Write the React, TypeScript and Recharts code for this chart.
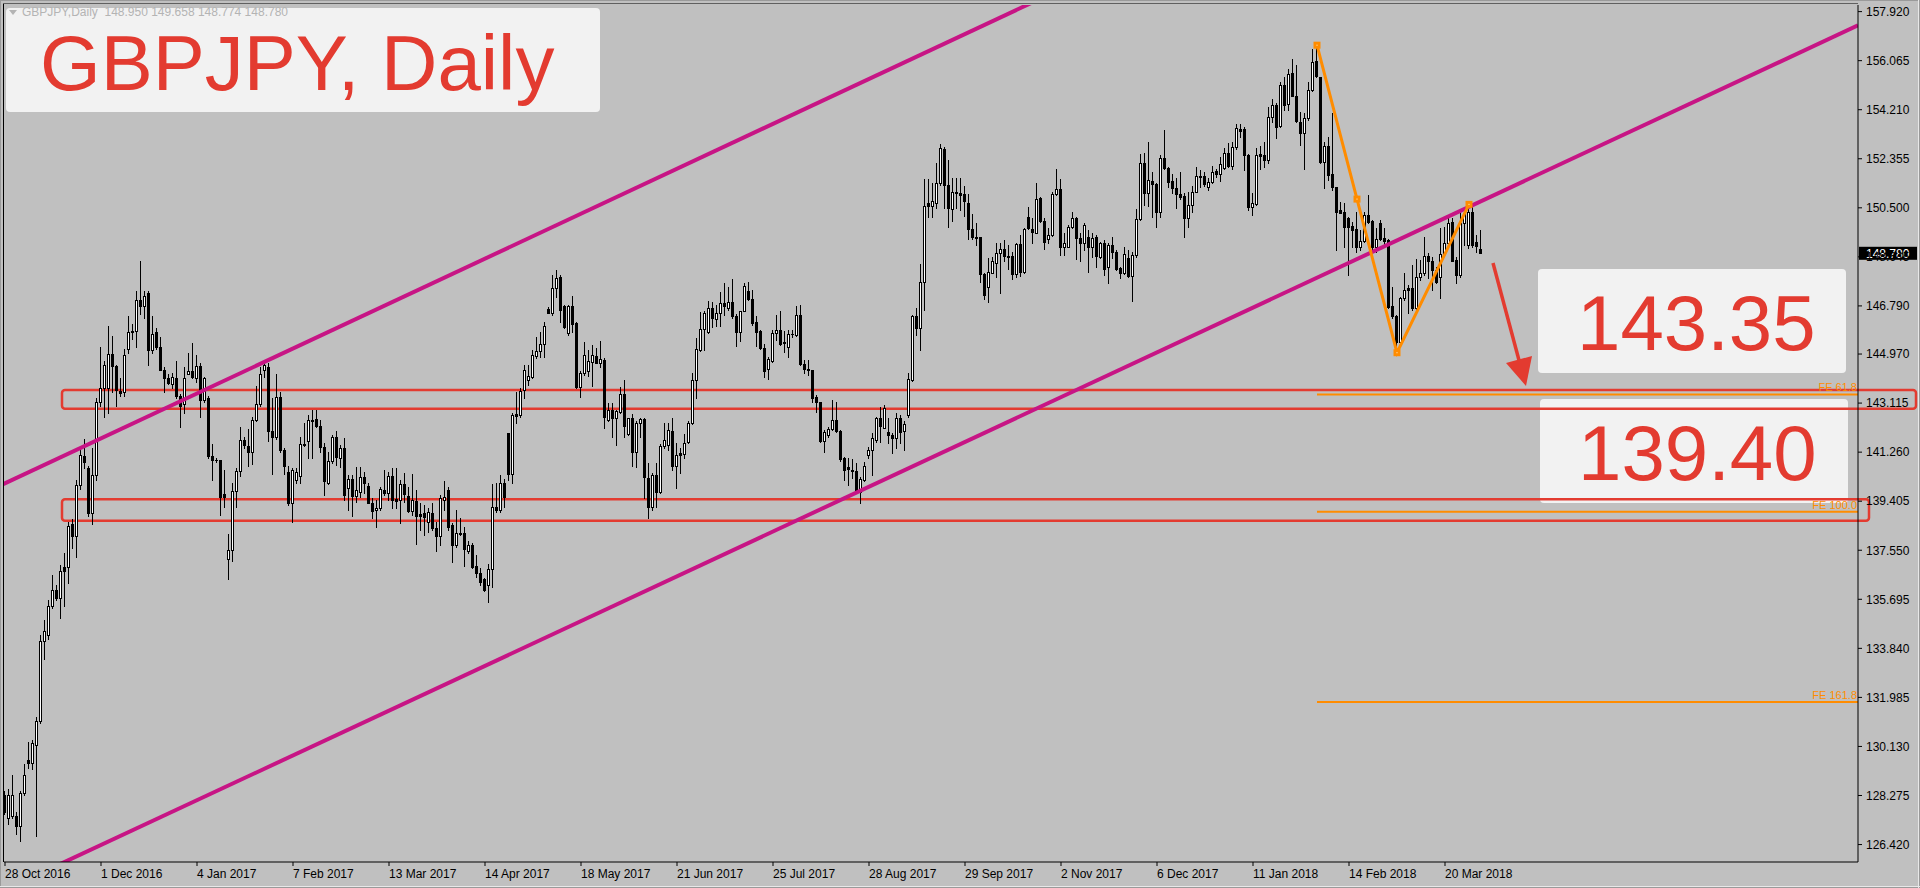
import React from "react";
import { ComposedChart, Bar, Line, XAxis, YAxis, ReferenceLine, ReferenceArea } from "recharts";

const W = 1920;
const H = 888;
const BG = "#c0c0c0";
const RED = "#e33b30";
const ORANGE = "#ff8c00";
const MAGENTA = "#c71585";
const FONT = "Liberation Sans";

// daily candles, 28 Oct 2016 .. end of Mar 2018
const OPEN = [
  128.30, 127.42, 127.49, 127.49, 127.12, 128.38, 129.63, 129.51, 130.19, 131.10,
  134.12, 134.34, 135.44, 136.03, 135.73, 136.91, 136.91, 138.53, 138.09, 140.00,
  141.11, 140.67, 138.97, 140.40, 143.17, 143.68, 143.68, 144.96, 144.52, 143.58,
  143.54, 145.15, 145.79, 145.85, 147.02, 146.77, 147.26, 145.11, 145.79, 145.23,
  144.37, 144.05, 143.83, 144.08, 143.39, 143.09, 144.23, 144.32, 144.08, 144.52,
  143.24, 143.31, 141.11, 140.96, 140.96, 139.66, 137.21, 137.57, 139.78, 140.55,
  141.72, 141.48, 141.26, 142.46, 143.09, 144.35, 144.49, 142.06, 141.84, 143.34,
  141.33, 140.52, 139.34, 140.22, 140.37, 141.52, 141.70, 142.45, 142.50, 142.25,
  141.44, 140.08, 140.94, 141.82, 141.03, 141.41, 139.89, 140.23, 139.60, 139.77,
  140.33, 139.98, 139.35, 139.07, 139.14, 139.83, 139.70, 140.36, 139.48, 139.45,
  140.06, 139.60, 139.05, 139.43, 138.92, 138.95, 138.63, 138.97, 138.38, 138.07,
  139.45, 139.83, 138.51, 137.75, 138.17, 138.19, 137.54, 137.75, 136.96, 136.70,
  136.45, 136.24, 136.83, 139.20, 139.07, 140.08, 141.97, 140.44, 142.70, 142.67,
  143.61, 143.97, 144.12, 144.90, 145.10, 145.35, 146.68, 146.54, 147.46, 147.90,
  146.77, 145.76, 146.77, 146.16, 143.74, 144.24, 144.31, 144.68, 144.90, 144.65,
  144.75, 142.48, 142.86, 142.54, 142.79, 143.45, 141.94, 142.54, 141.25, 142.35,
  142.50, 140.27, 139.20, 140.40, 139.74, 141.51, 141.53, 142.06, 140.75, 141.22,
  141.18, 141.66, 142.35, 143.99, 145.13, 145.92, 145.79, 146.73, 146.30, 146.51,
  146.89, 146.70, 146.93, 146.42, 145.82, 146.60, 147.36, 147.05, 146.20, 145.84,
  145.19, 144.41, 144.71, 145.76, 145.88, 145.44, 145.25, 145.72, 145.69, 146.45,
  144.58, 144.41, 144.37, 143.36, 143.17, 141.68, 141.91, 142.14, 142.48, 142.06,
  141.05, 140.68, 140.59, 140.55, 139.74, 140.21, 141.15, 141.34, 141.72, 142.54,
  142.19, 142.04, 141.91, 141.81, 142.54, 142.06, 142.67, 143.99, 146.39, 145.97,
  147.71, 150.67, 150.55, 150.70, 151.43, 152.71, 151.37, 150.45, 151.11, 151.05,
  151.03, 150.67, 149.69, 149.39, 149.39, 148.00, 147.50, 148.05, 148.43, 148.78,
  148.93, 148.68, 148.68, 148.00, 149.13, 148.09, 150.14, 149.69, 149.56, 150.86,
  150.02, 149.31, 149.48, 151.03, 151.20, 149.01, 149.03, 149.76, 150.10, 149.35,
  149.16, 149.39, 149.03, 149.39, 148.65, 149.16, 148.25, 149.10, 148.84, 148.21,
  148.02, 148.59, 147.92, 148.72, 150.07, 152.19, 151.05, 151.53, 151.40, 150.36,
  152.37, 151.99, 151.53, 151.24, 151.03, 150.95, 150.10, 150.61, 151.11, 151.68,
  151.71, 151.28, 151.49, 151.91, 151.78, 151.99, 152.59, 152.08, 152.79, 153.47,
  153.47, 152.50, 150.52, 150.65, 152.54, 152.50, 152.31, 153.93, 154.39, 153.60,
  155.15, 154.43, 155.59, 154.73, 153.76, 153.34, 153.89, 154.96, 156.07, 155.46,
  152.25, 152.84, 151.78, 151.28, 150.42, 150.36, 150.11, 149.82, 149.69, 149.03,
  149.26, 150.23, 150.02, 149.03, 149.94, 149.35, 149.29, 146.79, 146.39, 145.44,
  147.08, 147.46, 147.46, 146.70, 147.90, 148.03, 148.68, 148.50, 148.15, 147.87,
  148.76, 149.16, 149.98, 148.53, 147.96, 149.92, 149.10, 150.36, 149.19, 148.95,
];

const HIGH = [
  128.45, 128.52, 129.04, 127.64, 128.45, 129.48, 130.29, 130.36, 131.25, 134.34,
  134.93, 135.66, 136.62, 136.25, 136.99, 137.43, 138.61, 138.75, 140.22, 141.33,
  141.77, 140.74, 141.40, 143.31, 145.23, 144.71, 146.04, 145.67, 144.57, 144.05,
  145.15, 146.41, 146.11, 147.36, 148.47, 147.36, 147.36, 146.41, 145.96, 145.60,
  144.49, 144.20, 144.27, 144.71, 143.46, 144.49, 145.01, 145.38, 144.93, 144.64,
  144.12, 143.39, 141.55, 141.03, 140.96, 140.59, 138.16, 140.08, 140.67, 142.21,
  141.84, 142.14, 142.58, 143.76, 144.49, 144.64, 144.64, 143.31, 144.20, 143.54,
  141.40, 140.74, 140.67, 140.67, 141.84, 142.36, 142.67, 142.86, 142.86, 142.48,
  141.60, 141.28, 141.91, 142.07, 141.53, 141.79, 140.40, 140.40, 140.71, 140.71,
  140.52, 140.08, 139.52, 139.45, 139.96, 140.59, 140.52, 140.65, 140.65, 140.21,
  140.49, 139.96, 140.44, 139.83, 139.33, 139.26, 139.14, 139.33, 138.63, 139.64,
  140.15, 139.96, 138.57, 139.07, 138.76, 138.42, 137.91, 137.81, 137.37, 136.87,
  136.49, 137.03, 140.06, 140.08, 140.40, 140.23, 141.97, 142.73, 143.55, 143.68,
  144.56, 144.56, 145.13, 145.63, 145.82, 146.20, 146.74, 147.96, 148.15, 147.96,
  146.83, 146.83, 147.17, 146.20, 144.31, 145.44, 145.13, 145.31, 145.19, 145.48,
  144.81, 143.13, 143.11, 142.86, 143.74, 143.99, 142.57, 142.69, 142.42, 142.57,
  142.54, 140.84, 140.46, 140.84, 141.56, 142.35, 142.35, 142.57, 141.60, 141.41,
  141.94, 142.42, 144.24, 145.57, 146.55, 146.58, 146.98, 146.95, 146.83, 147.31,
  147.65, 147.52, 147.81, 146.47, 146.60, 147.65, 147.71, 147.39, 146.39, 145.88,
  145.34, 144.87, 145.88, 146.45, 146.58, 145.84, 145.88, 145.88, 146.80, 146.83,
  144.75, 144.75, 144.37, 143.42, 143.17, 142.10, 142.21, 143.23, 143.15, 142.10,
  141.09, 141.03, 141.00, 140.84, 140.33, 140.90, 141.47, 141.97, 142.60, 142.98,
  143.05, 142.54, 141.97, 142.73, 142.67, 142.42, 144.24, 146.45, 146.73, 148.38,
  151.58, 151.58, 151.45, 152.21, 152.92, 152.79, 152.31, 151.62, 151.62, 151.62,
  151.33, 151.03, 150.27, 149.92, 149.41, 148.05, 148.59, 148.63, 149.16, 149.18,
  149.29, 149.10, 148.84, 149.18, 149.47, 149.73, 150.52, 150.10, 151.45, 150.92,
  150.10, 149.73, 151.08, 151.96, 151.58, 149.54, 149.85, 150.36, 150.17, 149.54,
  149.92, 149.66, 149.54, 149.47, 149.22, 149.29, 149.16, 149.41, 148.91, 148.28,
  149.01, 148.91, 148.84, 150.46, 152.54, 152.56, 153.00, 151.87, 151.45, 152.50,
  153.45, 152.06, 151.78, 151.62, 151.87, 151.05, 151.08, 151.33, 152.03, 151.93,
  151.87, 151.62, 152.08, 151.96, 152.44, 152.75, 152.94, 153.00, 153.67, 153.67,
  153.57, 152.54, 151.05, 152.75, 152.82, 153.00, 154.30, 154.61, 154.48, 155.27,
  155.46, 155.74, 156.12, 155.90, 154.14, 154.08, 155.27, 156.50, 156.66, 155.46,
  153.00, 153.19, 154.08, 151.30, 150.72, 150.67, 150.17, 149.98, 150.36, 149.66,
  150.36, 150.99, 150.04, 149.73, 150.04, 149.73, 149.31, 147.50, 146.45, 147.14,
  148.02, 147.58, 148.34, 148.55, 148.53, 149.41, 148.81, 148.65, 148.28, 149.73,
  149.79, 150.17, 150.10, 148.65, 150.32, 150.36, 150.63, 150.55, 149.48, 149.658,
];

const LOW = [
  127.57, 127.20, 127.42, 126.83, 126.54, 128.30, 129.33, 129.26, 126.76, 131.03,
  133.45, 134.19, 135.37, 135.66, 135.00, 135.44, 136.32, 137.65, 137.28, 139.86,
  140.67, 138.83, 138.53, 140.22, 143.02, 142.58, 142.73, 143.54, 143.02, 143.39,
  143.39, 145.01, 145.52, 145.23, 146.48, 146.33, 144.57, 145.01, 145.15, 144.35,
  143.54, 143.83, 143.68, 143.31, 142.21, 142.73, 144.20, 144.05, 143.90, 142.58,
  143.17, 141.03, 140.22, 140.89, 138.90, 139.19, 136.47, 137.13, 139.19, 140.37,
  141.40, 140.74, 140.81, 142.43, 143.02, 144.12, 141.70, 140.45, 141.77, 141.26,
  140.45, 139.27, 138.61, 140.08, 140.08, 141.48, 141.03, 141.03, 142.20, 141.28,
  139.64, 140.06, 140.84, 140.78, 140.71, 139.45, 139.07, 138.85, 139.39, 139.58,
  139.73, 139.33, 138.76, 138.44, 139.07, 139.64, 139.45, 139.14, 139.14, 138.57,
  139.39, 139.01, 138.89, 137.79, 138.32, 138.13, 138.25, 138.32, 137.54, 137.75,
  139.07, 138.32, 137.12, 137.69, 138.13, 136.96, 137.43, 136.87, 136.55, 136.24,
  135.99, 135.61, 136.17, 139.01, 139.01, 139.20, 140.21, 140.08, 142.35, 142.60,
  143.30, 143.80, 144.05, 144.81, 144.87, 144.85, 146.51, 146.45, 147.14, 146.20,
  145.94, 145.69, 145.82, 143.68, 143.36, 144.18, 144.14, 143.76, 144.62, 144.49,
  142.16, 142.42, 141.85, 141.53, 142.73, 141.85, 141.91, 140.75, 140.71, 141.85,
  139.52, 138.76, 139.07, 139.20, 139.70, 141.41, 141.34, 140.59, 139.89, 140.46,
  141.03, 141.60, 142.31, 143.30, 145.09, 145.13, 145.76, 146.01, 146.04, 146.04,
  146.45, 146.64, 146.35, 145.29, 145.47, 146.58, 147.02, 146.07, 145.29, 145.17,
  144.12, 144.03, 144.66, 145.50, 145.31, 145.06, 144.84, 145.63, 145.67, 144.56,
  144.24, 144.18, 143.17, 142.79, 141.63, 141.28, 141.85, 142.10, 142.04, 140.93,
  140.21, 140.02, 140.27, 139.70, 139.33, 140.15, 141.03, 140.40, 141.66, 141.63,
  142.16, 141.60, 141.22, 141.41, 141.60, 141.34, 142.60, 143.95, 145.69, 145.13,
  146.64, 150.17, 150.17, 150.48, 151.37, 150.48, 149.76, 150.02, 150.48, 150.42,
  150.19, 149.31, 149.31, 149.10, 147.71, 147.04, 146.95, 148.02, 147.87, 147.29,
  148.47, 148.19, 147.80, 147.90, 147.92, 148.02, 149.69, 149.16, 149.54, 149.98,
  148.93, 149.18, 149.44, 150.99, 148.72, 148.72, 149.01, 149.73, 148.55, 148.47,
  148.91, 148.09, 148.65, 148.28, 148.59, 147.96, 147.65, 148.59, 148.15, 147.84,
  148.00, 147.90, 146.99, 148.65, 150.04, 150.61, 150.57, 150.17, 149.76, 150.14,
  151.96, 151.30, 151.05, 150.48, 150.82, 149.41, 149.79, 150.36, 151.08, 151.30,
  151.33, 151.18, 151.45, 151.68, 151.53, 151.96, 152.03, 151.96, 152.71, 153.19,
  151.93, 150.42, 150.23, 150.61, 151.96, 152.06, 152.19, 153.76, 153.13, 153.57,
  154.20, 154.20, 154.71, 153.76, 152.88, 151.96, 153.82, 154.90, 155.46, 152.19,
  151.24, 151.55, 151.18, 148.91, 150.29, 149.03, 147.96, 149.03, 148.84, 148.91,
  149.22, 149.92, 148.91, 148.84, 149.27, 149.03, 146.70, 146.32, 145.02, 145.38,
  147.02, 146.51, 146.64, 146.66, 147.77, 147.96, 147.84, 147.39, 147.65, 147.08,
  148.66, 149.03, 148.47, 147.65, 147.90, 149.10, 148.97, 149.03, 148.84, 148.774,
];

const CLOSE = [
  127.64, 128.30, 128.30, 127.12, 128.38, 129.04, 129.51, 130.25, 131.10, 134.12,
  134.48, 135.44, 136.03, 135.73, 136.77, 136.77, 138.46, 138.09, 140.00, 141.14,
  140.89, 138.97, 140.40, 143.17, 143.68, 144.57, 144.96, 144.52, 143.61, 143.49,
  144.93, 145.82, 145.85, 147.02, 146.77, 147.17, 145.11, 145.74, 145.23, 144.37,
  144.05, 143.87, 144.12, 143.39, 143.02, 144.05, 144.32, 144.12, 144.52, 143.24,
  144.05, 141.11, 140.96, 140.95, 139.56, 139.56, 137.57, 139.78, 140.55, 141.72,
  141.52, 141.26, 142.46, 143.09, 144.23, 144.57, 142.06, 141.84, 143.34, 141.33,
  140.74, 139.34, 140.59, 140.52, 141.55, 141.58, 142.48, 142.49, 142.23, 141.44,
  140.18, 140.94, 141.82, 141.07, 141.41, 139.64, 140.23, 139.60, 139.81, 140.33,
  140.08, 139.35, 139.05, 139.14, 139.86, 139.73, 140.36, 139.45, 139.43, 140.06,
  139.68, 139.05, 139.45, 138.85, 138.85, 138.82, 139.01, 138.38, 138.07, 139.52,
  139.55, 138.44, 137.75, 138.22, 138.19, 137.59, 137.75, 136.93, 136.70, 136.36,
  136.05, 136.83, 139.20, 139.07, 140.08, 139.58, 140.44, 142.67, 142.64, 143.59,
  144.37, 144.14, 144.94, 145.10, 145.35, 146.03, 146.54, 147.46, 147.84, 146.64,
  145.98, 146.77, 146.11, 143.74, 144.24, 144.94, 144.72, 144.94, 144.65, 144.77,
  142.58, 142.86, 142.54, 142.83, 143.45, 142.23, 142.54, 141.28, 142.35, 142.50,
  140.33, 139.20, 140.40, 139.74, 141.51, 141.72, 142.10, 140.75, 141.15, 141.15,
  141.60, 142.35, 143.99, 145.15, 145.92, 146.51, 146.70, 146.32, 146.51, 146.89,
  146.80, 146.93, 146.39, 145.82, 146.58, 147.56, 147.05, 146.13, 145.79, 145.19,
  144.33, 144.78, 145.76, 145.88, 145.34, 145.38, 145.72, 145.74, 146.45, 144.58,
  144.39, 144.36, 143.32, 143.15, 141.68, 142.01, 142.14, 142.48, 142.06, 141.00,
  140.59, 140.62, 140.53, 139.74, 140.24, 140.75, 141.34, 141.81, 142.54, 142.23,
  142.92, 141.89, 141.81, 142.54, 142.04, 142.31, 144.03, 146.39, 145.97, 147.71,
  150.55, 150.55, 150.74, 151.43, 152.75, 151.37, 150.48, 151.08, 151.05, 150.99,
  150.77, 149.69, 149.39, 149.37, 148.00, 147.20, 148.09, 148.47, 148.78, 148.93,
  148.68, 148.63, 148.00, 149.13, 148.09, 149.69, 149.73, 149.60, 150.82, 150.02,
  149.22, 149.48, 151.03, 151.20, 149.01, 149.16, 149.76, 150.10, 149.35, 149.16,
  149.85, 149.03, 149.35, 148.68, 149.16, 148.18, 149.10, 148.84, 148.18, 148.02,
  148.76, 147.92, 148.72, 150.07, 152.19, 151.05, 151.55, 151.40, 150.36, 152.37,
  151.99, 151.49, 151.24, 151.03, 150.92, 150.10, 150.61, 151.11, 151.71, 151.71,
  151.40, 151.49, 151.87, 151.78, 152.16, 152.59, 152.08, 152.79, 153.51, 153.42,
  152.50, 150.52, 150.67, 152.50, 152.46, 152.31, 153.93, 154.39, 153.57, 155.15,
  154.39, 155.56, 154.73, 153.80, 153.34, 153.89, 154.96, 156.03, 155.49, 152.25,
  152.84, 151.74, 151.28, 150.36, 150.32, 149.79, 149.79, 149.66, 149.01, 149.26,
  150.23, 149.98, 149.03, 149.31, 149.31, 149.26, 146.76, 146.39, 145.44, 147.08,
  147.39, 147.39, 146.70, 147.90, 148.03, 148.66, 148.47, 148.15, 147.71, 148.76,
  149.16, 149.94, 148.50, 147.96, 149.94, 150.29, 150.36, 149.10, 149.06, 148.78,
];

// time axis: one label every 24 bars
const X_TICKS = [0, 24, 48, 72, 96, 120, 144, 168, 192, 216, 240, 264, 288, 312, 336, 360];
const DATE_TICKS = [
  "28 Oct 2016", "1 Dec 2016", "4 Jan 2017", "7 Feb 2017", "13 Mar 2017", "14 Apr 2017",
  "18 May 2017", "21 Jun 2017", "25 Jul 2017", "28 Aug 2017", "29 Sep 2017", "2 Nov 2017",
  "6 Dec 2017", "11 Jan 2018", "14 Feb 2018", "20 Mar 2018",
];
const PRICE_TICKS = [
  157.92, 156.065, 154.21, 152.355, 150.5, 148.645, 146.79, 144.97, 143.115,
  141.26, 139.405, 137.55, 135.695, 133.84, 131.985, 130.13, 128.275, 126.42,
];

// bar-index / price ranges of the visible window
const X_MIN = -0.25;
const X_MAX = 463.25;
const Y_MIN = 125.76;
const Y_MAX = 158.17;

// channel (bar index, price)
const CHAN_X = [-1, 463.25];
const CHAN_UPPER = [140.01, 172.88];
const CHAN_LOWER = [124.64, 157.4];

// support zones
const ZONE_TOP = [143.61, 139.48];
const ZONE_BOTTOM = [142.9, 138.67];
const ZONE_FROM = [14.25, 14.25];
const ZONE_TO = [477.75, 466];

// fibo expansion anchors A, (mid), B, C
const ZZ_INDEX = [328, 338, 348, 366];
const ZZ_PRICE = [156.65, 150.83, 145.02, 150.63];
const FE_LEVELS = [143.44, 139.01, 131.81];
const FE_LABELS = ["FE 61.8", "FE 100.0", "FE 161.8"];

const TARGETS = ["143.35", "139.40"];

const LAST = CLOSE.length - 1;

const rows = CLOSE.map((c, i) => {
  const k = ZZ_INDEX.indexOf(i);
  return { i, o: OPEN[i], h: HIGH[i], l: LOW[i], c, zz: k >= 0 ? ZZ_PRICE[k] : null };
});

function Candle(props: any) {
  const { x, y, width, height, payload } = props;
  if (x == null || y == null || !payload) return <g />;
  const top = Math.min(y, y + height);
  const bot = Math.max(y, y + height);
  const span = payload.h - payload.l || 1;
  const py = (p: number) => bot - ((p - payload.l) / span) * (bot - top);
  const cx = Math.floor(x + width / 2) + 0.5;
  const yo = Math.round(py(payload.o));
  const yc = Math.round(py(payload.c));
  const bull = payload.c >= payload.o;
  const bt = Math.min(yo, yc);
  const bh = Math.abs(yo - yc);
  return (
    <g shapeRendering="crispEdges">
      <line x1={cx} x2={cx} y1={Math.round(top)} y2={Math.round(bot) + 1} stroke="#000" strokeWidth={1} />
      {bh < 1 ? (
        <line x1={cx - 1.5} x2={cx + 1.5} y1={bt + 0.5} y2={bt + 0.5} stroke="#000" strokeWidth={1} />
      ) : (
        <rect x={cx - 1} y={bt + 0.5} width={2} height={bh} fill={bull ? "#fff" : "#000"} stroke="#000" strokeWidth={1} />
      )}
    </g>
  );
}

const zzDot = (p: any) => {
  if (!p.payload || p.payload.zz == null || p.cy == null) return <g key={p.index} />;
  return (
    <g key={p.index}>
      <rect x={p.cx - 3.5} y={p.cy - 3.5} width={7} height={7} fill={ORANGE} />
      <rect x={p.cx - 0.5} y={p.cy - 0.5} width={1} height={1} fill="#fff3d0" />
    </g>
  );
};

const FeLabel = ({ viewBox, text }: any) =>
  viewBox ? (
    <text x={viewBox.x + viewBox.width - 1} y={viewBox.y - 3} textAnchor="end" fill={ORANGE} fontSize={11} fontFamily={FONT}>
      {text}
    </text>
  ) : null;

const PriceTag = ({ viewBox, text }: any) => {
  if (!viewBox) return null;
  const x = viewBox.x + viewBox.width + 1;
  const y = viewBox.y;
  return (
    <g>
      <rect x={x} y={y - 6.5} width={58} height={13} fill="#000" />
      <text x={x + 7} y={y + 4.5} fill="#fff" fontSize={12} fontFamily={FONT}>
        {text}
      </text>
    </g>
  );
};

const XTick = ({ x, y, payload }: any) => (
  <text x={x} y={y + 10} textAnchor="start" fill="#000" fontSize={12} fontFamily={FONT}>
    {DATE_TICKS[X_TICKS.indexOf(payload.value)]}
  </text>
);

export default function App() {
  const header = `GBPJPY,Daily  ${OPEN[LAST].toFixed(3)} ${HIGH[LAST].toFixed(3)} ${LOW[LAST].toFixed(3)} ${CLOSE[LAST].toFixed(3)}`;
  return (
    <div style={{ position: "fixed", left: 0, top: 0, width: W, height: H, background: BG, overflow: "hidden", fontFamily: FONT }}>
      <svg width={W} height={H} style={{ position: "absolute", left: 0, top: 0 }}>
        <rect x={0.5} y={0.5} width={W - 1} height={H - 1} fill="none" stroke="#9a9a9a" />
        <line x1={W - 1.5} x2={W - 1.5} y1={0} y2={H} stroke="#e8e8e8" />
        <line x1={0} x2={W} y1={H - 1.5} y2={H - 1.5} stroke="#e8e8e8" />
        <line x1={3.5} x2={3.5} y1={3} y2={862} stroke="#000" />
        <line x1={3} x2={1858} y1={3.5} y2={3.5} stroke="#606060" />

        <rect x={6} y={8} width={594} height={104} rx={4} fill="#f2f2f2" />
        <path d="M9 10 L17 10 L13 15 Z" fill="#b4b4b4" />
        <text x={22} y={16} fontSize={12} fill="#b4b4b4" style={{ whiteSpace: "pre" }}>
          {header}
        </text>
        <text x={40} y={89.5} fontSize={78} fill={RED}>
          GBPJPY, Daily
        </text>

        <rect x={1538} y={269} width={308} height={104} rx={4} fill="#f2f2f2" />
        <text x={1577} y={350} fontSize={78} fill={RED}>
          {TARGETS[0]}
        </text>
        <rect x={1540} y={399} width={308} height={104} rx={4} fill="#f2f2f2" />
        <text x={1578} y={480} fontSize={78} fill={RED}>
          {TARGETS[1]}
        </text>

        <line x1={1493} y1={263} x2={1520} y2={364} stroke={RED} strokeWidth={3.5} />
        <path d="M1506 363 L1532 356 L1526 386 Z" fill={RED} />
      </svg>

      <div style={{ position: "absolute", left: 0, top: 0 }}>
        <ComposedChart width={W} height={H} data={rows} margin={{ top: 5, right: 0, bottom: 0, left: 4 }}>
          <XAxis
            type="number"
            dataKey="i"
            domain={[X_MIN, X_MAX]}
            allowDataOverflow
            ticks={X_TICKS}
            interval={0}
            height={26}
            tickSize={4}
            tick={<XTick />}
            axisLine={{ stroke: "#000" }}
            tickLine={{ stroke: "#000" }}
          />
          <YAxis
            orientation="right"
            type="number"
            domain={[Y_MIN, Y_MAX]}
            allowDataOverflow
            ticks={PRICE_TICKS}
            interval={0}
            width={62}
            tickSize={4}
            tickMargin={4}
            tickFormatter={(v: number) => v.toFixed(3)}
            tick={{ fill: "#000", fontSize: 12, fontFamily: FONT }}
            axisLine={{ stroke: "#000" }}
            tickLine={{ stroke: "#000" }}
          />
          <Bar dataKey={(d: any) => [d.l, d.h]} barSize={3} shape={(p: any) => <Candle {...p} />} isAnimationActive={false} />

          {ZONE_TOP.map((t, k) => (
            <ReferenceArea
              key={"z" + k}
              x1={ZONE_FROM[k]}
              x2={ZONE_TO[k]}
              y1={ZONE_BOTTOM[k]}
              y2={t}
              fill="none"
              stroke={RED}
              strokeWidth={2.5}
              radius={3}
              ifOverflow="visible"
            />
          ))}

          <ReferenceLine
            segment={[{ x: CHAN_X[0], y: CHAN_UPPER[0] }, { x: CHAN_X[1], y: CHAN_UPPER[1] }]}
            stroke={MAGENTA}
            strokeWidth={4}
            ifOverflow="hidden"
          />
          <ReferenceLine
            segment={[{ x: CHAN_X[0], y: CHAN_LOWER[0] }, { x: CHAN_X[1], y: CHAN_LOWER[1] }]}
            stroke={MAGENTA}
            strokeWidth={4}
            ifOverflow="hidden"
          />

          {FE_LEVELS.map((lvl, k) => (
            <ReferenceLine
              key={"fe" + k}
              segment={[{ x: ZZ_INDEX[0], y: lvl }, { x: X_MAX, y: lvl }]}
              stroke={ORANGE}
              strokeWidth={2}
              ifOverflow="visible"
              label={<FeLabel text={FE_LABELS[k]} />}
            />
          ))}

          <Line
            dataKey="zz"
            connectNulls
            stroke={ORANGE}
            strokeWidth={3}
            dot={zzDot}
            activeDot={false}
            isAnimationActive={false}
          />

          <ReferenceLine y={CLOSE[LAST]} stroke="none" label={<PriceTag text={CLOSE[LAST].toFixed(3)} />} />
        </ComposedChart>
      </div>
    </div>
  );
}
